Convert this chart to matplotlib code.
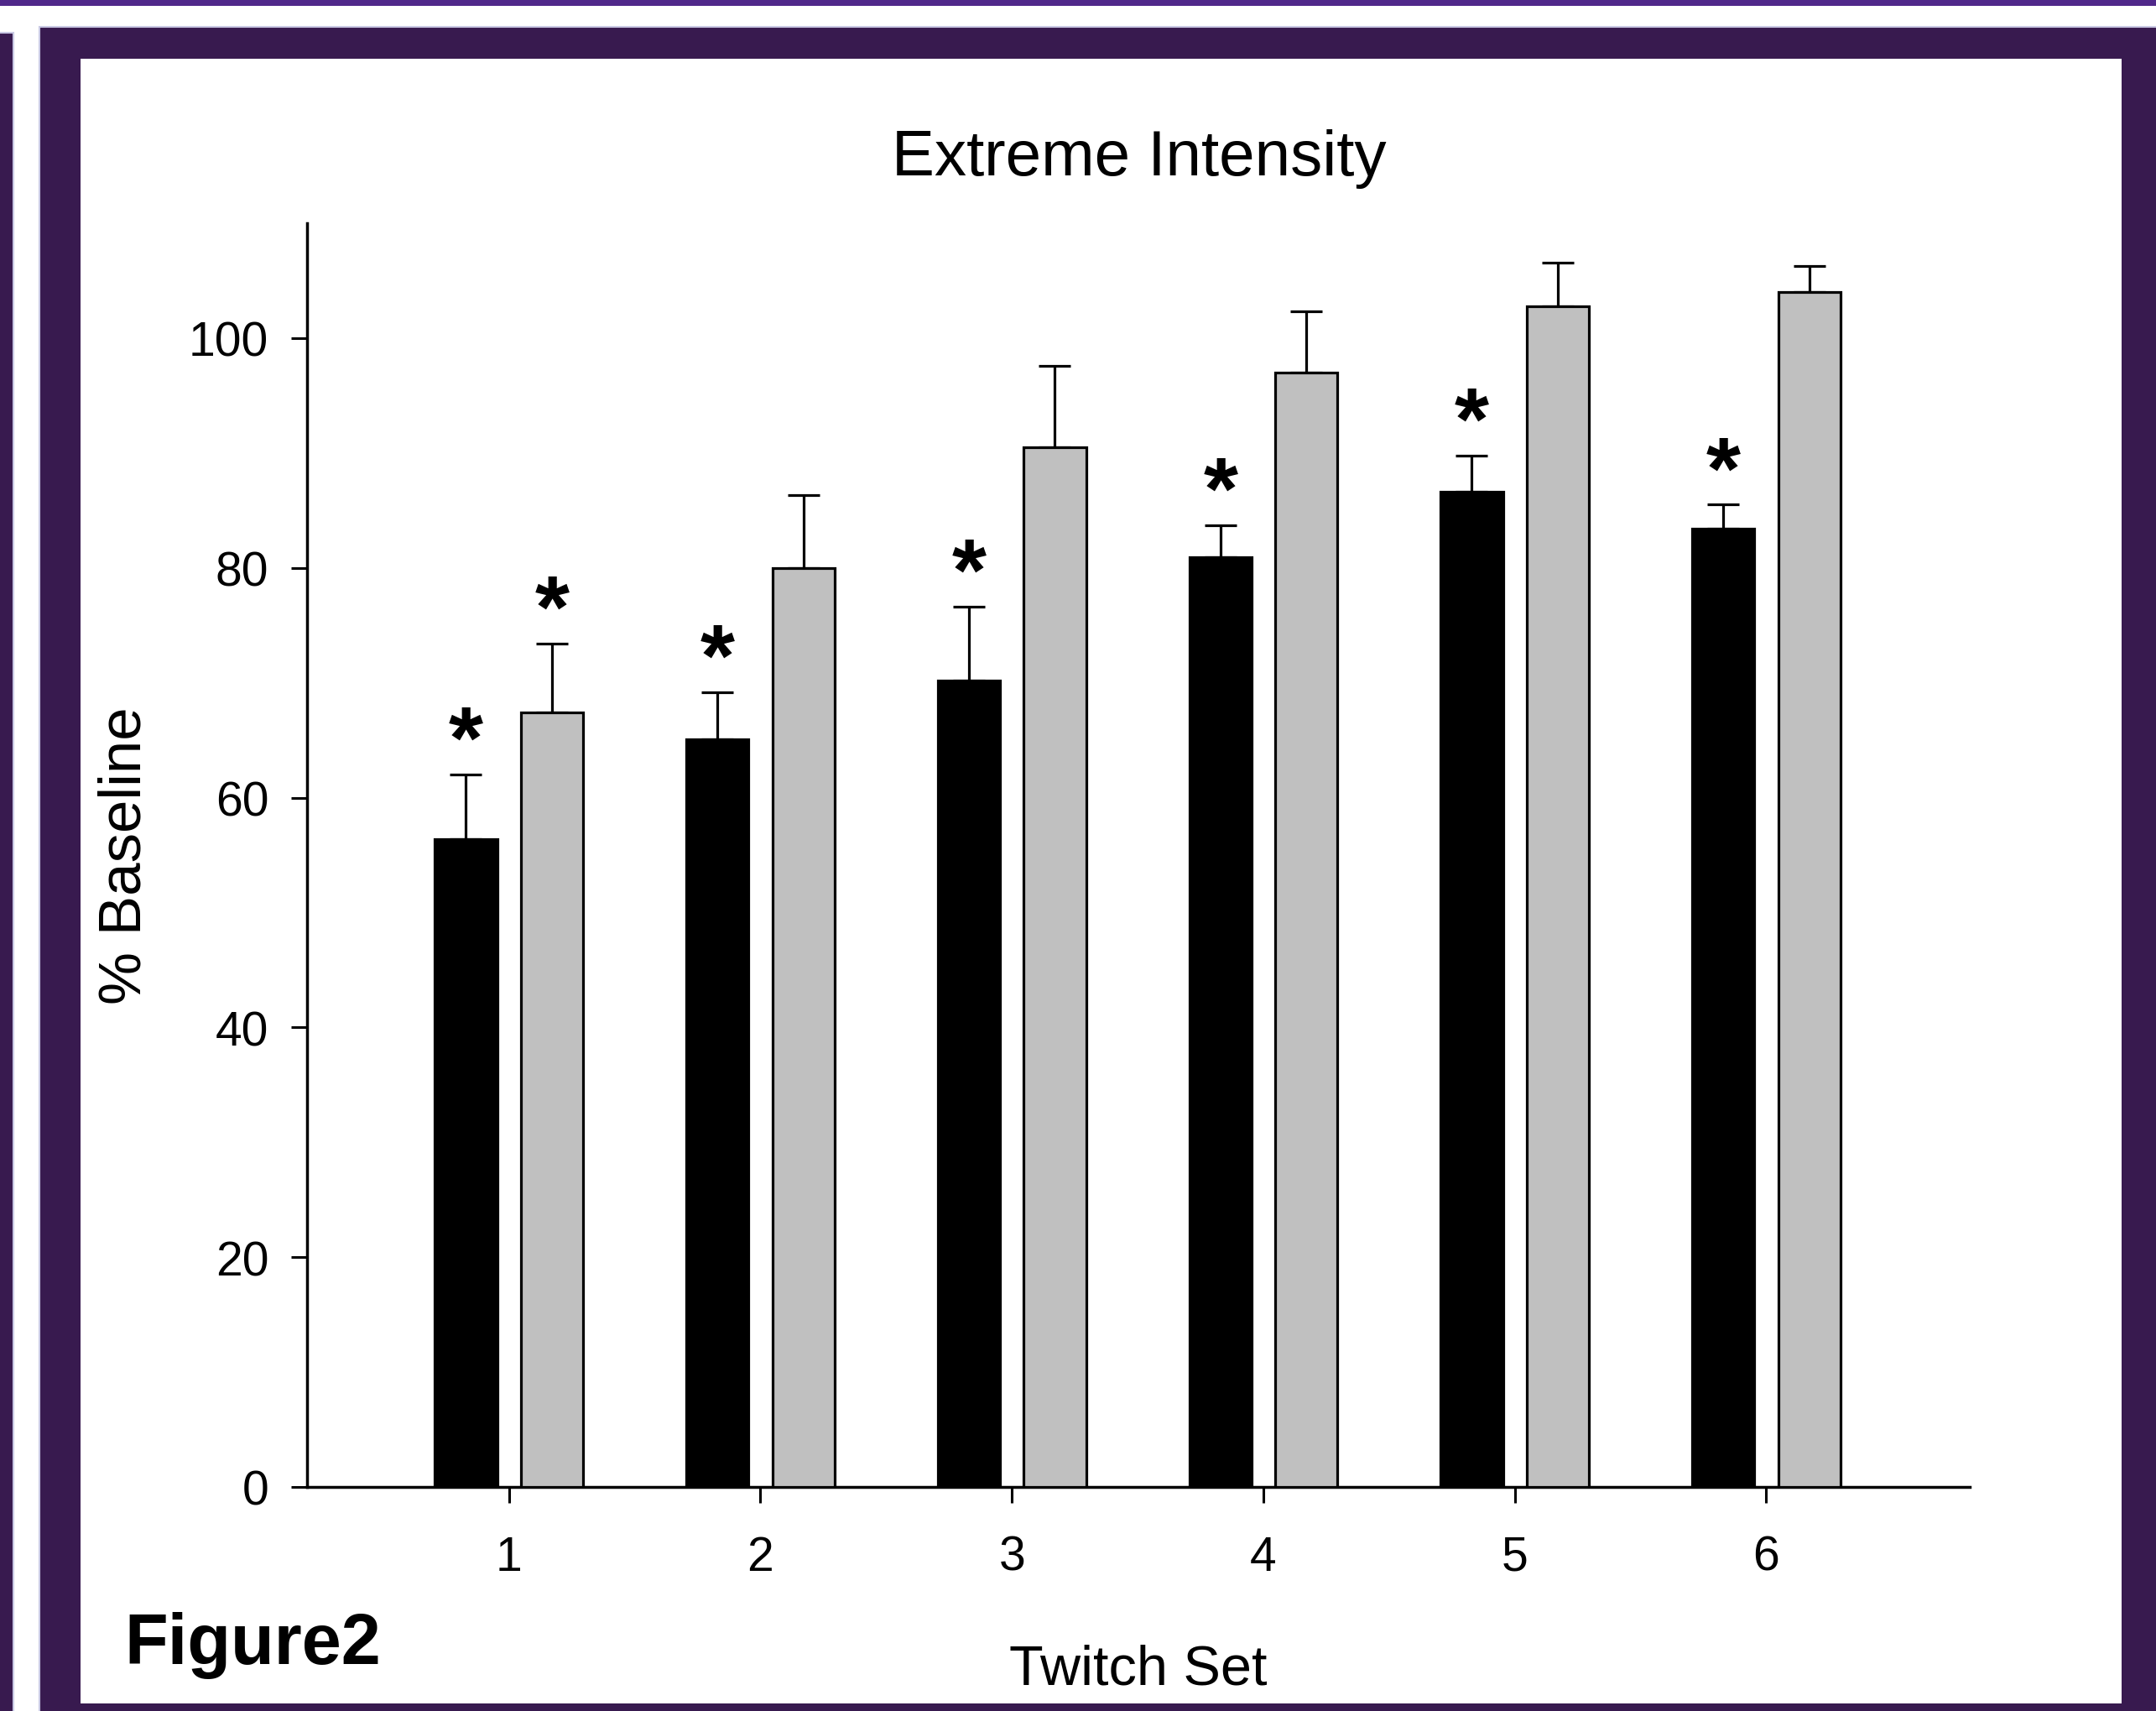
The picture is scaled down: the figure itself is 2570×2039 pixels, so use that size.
import matplotlib.pyplot as plt
from matplotlib.patches import Rectangle

# values
twitch_sets = [1, 2, 3, 4, 5, 6]
black_means = [56.4, 65.1, 70.2, 80.9, 86.6, 83.4]
black_err = [5.6, 4.1, 6.4, 2.8, 3.2, 2.1]
grey_means = [67.4, 80.0, 90.5, 97.0, 102.8, 104.0]
grey_err = [6.0, 6.3, 7.1, 5.3, 3.8, 2.3]
black_sig = [True, True, True, True, True, True]
grey_sig = [True, False, False, False, False, False]
yticks = [0, 20, 40, 60, 80, 100]

W, H = 2570, 2040
plt.rcParams['font.family'] = ['Liberation Sans', 'DejaVu Sans']

fig = plt.figure(figsize=(W / 100, H / 100), dpi=100)
fig.patch.set_facecolor('white')

dark = '#381a4f'
light = '#c9c9e4'


def box(x0, y0, x1, y1, color, ec='none', lw=0):
    # pixel box measured from the top-left corner
    r = Rectangle((x0 / W, 1 - y1 / H), (x1 - x0) / W, (y1 - y0) / H,
                  transform=fig.transFigure, facecolor=color, edgecolor=ec,
                  linewidth=lw, zorder=-10)
    fig.add_artist(r)


box(0, 0, W, 8, '#50288a')
box(-5, 40, 16, H + 5, dark, light, 1.5)
box(47, 33, W + 5, H + 5, dark, light, 1.5)
box(96, 71, 2529, 2031, 'white')

ax = fig.add_axes([365.7 / W, 267 / H, (2347.7 - 365.7) / W, (1773 - 267) / H])
ax.set_facecolor('none')

off = 0.171
bw = 0.248
xb = [x - off for x in twitch_sets]
xg = [x + off for x in twitch_sets]
zeros = [0] * len(twitch_sets)

ax.bar(xb, black_means, width=bw, color='black', edgecolor='black', linewidth=2.3, zorder=3)
ax.bar(xg, grey_means, width=bw, color='#c0c0c0', edgecolor='black', linewidth=2.3, zorder=3)
ax.errorbar(xb, black_means, yerr=[zeros, black_err], fmt='none', ecolor='black',
            elinewidth=2.3, capsize=14, capthick=2.3, zorder=2)
ax.errorbar(xg, grey_means, yerr=[zeros, grey_err], fmt='none', ecolor='black',
            elinewidth=2.3, capsize=14, capthick=2.3, zorder=2)

star_size = 76
for x, m, e, s in zip(xb, black_means, black_err, black_sig):
    if s:
        ax.text(x, m + e + 0.6, '*', ha='center', va='baseline', fontsize=star_size, fontweight='bold')
for x, m, e, s in zip(xg, grey_means, grey_err, grey_sig):
    if s:
        ax.text(x, m + e + 0.6, '*', ha='center', va='baseline', fontsize=star_size, fontweight='bold')

ax.set_xlim(0.196, 6.808)
ax.set_ylim(0, 110)
ax.set_xticks(twitch_sets)
ax.set_yticks(yticks)
ax.spines['top'].set_visible(False)
ax.spines['right'].set_visible(False)
ax.spines['left'].set_linewidth(2.5)
ax.spines['bottom'].set_linewidth(2.5)
ax.tick_params(axis='both', direction='out', length=13.7, width=2.2, labelsize=41)
ax.tick_params(axis='y', pad=19)
ax.tick_params(axis='x', pad=27)

fig.text(1358 / W, 1 - 209 / H, 'Extreme Intensity', ha='center', va='baseline', fontsize=55)
fig.text(1356.5 / W, 1 - 2008 / H, 'Twitch Set', ha='center', va='baseline', fontsize=48)
fig.text(150 / W, 1 - 1020 / H, '% Baseline', ha='center', va='center', rotation=90, fontsize=51)
fig.text(148 / W, 1 - 1983 / H, 'Figure2', ha='left', va='baseline', fontsize=61, fontweight='bold')

fig.savefig('out.png', dpi=100)
